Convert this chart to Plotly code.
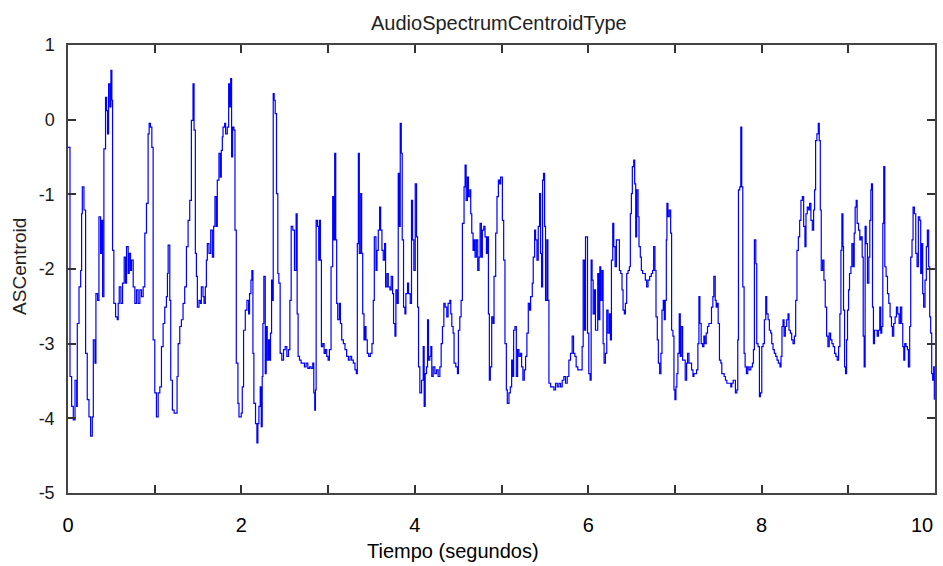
import plotly.graph_objects as go

# (time in s, ASCentroid), split by time range
seg_0_2 = [
    (0.000,-0.37),(0.023,-3.44),(0.042,-3.84),(0.061,-4.02),(0.081,-3.49),(0.100,-3.84),(0.107,-2.73),
    (0.127,-2.24),(0.146,-2.02),(0.157,-1.26),(0.165,-0.90),(0.184,-1.21),(0.203,-3.13),(0.222,-3.75),
    (0.242,-3.98),(0.261,-4.24),(0.280,-3.98),(0.292,-2.95),(0.311,-3.26),(0.322,-2.33),(0.341,-2.42),
    (0.357,-1.30),(0.376,-1.79),(0.387,-1.35),(0.399,-2.37),(0.414,-0.39),(0.433,0.30),(0.445,0.12),
    (0.456,-0.19),(0.468,0.48),(0.483,0.17),(0.495,0.66),(0.506,0.26),(0.514,-1.75),(0.529,-2.46),
    (0.549,-2.64),(0.568,-2.68),(0.579,-2.46),(0.591,-2.24),(0.610,-2.46),(0.629,-2.19),(0.648,-1.84),
    (0.664,-2.19),(0.675,-1.70),(0.694,-2.06),(0.706,-1.79),(0.721,-2.02),(0.733,-1.88),(0.752,-2.24),
    (0.771,-2.46),(0.790,-2.28),(0.809,-2.46),(0.829,-2.28),(0.848,-2.37),(0.867,-2.24),(0.886,-1.52),
    (0.905,-1.12),(0.924,-0.19),(0.936,-0.05),(0.951,-0.10),(0.967,-0.37),(0.982,-2.95),(1.001,-3.66),
    (1.020,-3.98),(1.040,-3.66),(1.059,-3.58),(1.078,-3.04),(1.097,-2.73),(1.116,-2.51),(1.135,-2.37),
    (1.147,-2.06),(1.155,-1.68),(1.174,-2.42),(1.185,-3.49),(1.204,-3.89),(1.224,-3.93),(1.243,-3.93),
    (1.258,-3.44),(1.270,-3.00),(1.289,-2.77),(1.308,-2.68),(1.327,-2.46),(1.346,-2.24),(1.366,-1.70),
    (1.385,-1.35),(1.404,-1.08),(1.423,-0.01),(1.442,0.48),(1.454,-0.14),(1.469,-1.79),(1.481,-2.10),
    (1.492,-2.51),(1.511,-2.42),(1.527,-2.46),(1.538,-2.24),(1.557,-2.37),(1.569,-2.46),(1.584,-2.24),
    (1.596,-1.88),(1.607,-1.66),(1.626,-1.79),(1.646,-1.48),(1.665,-1.84),(1.680,-1.43),(1.695,-1.03),
    (1.711,-1.43),(1.722,-0.81),(1.741,-0.45),(1.757,-0.77),(1.768,-0.41),(1.780,-0.23),(1.788,-0.10),
    (1.807,-0.05),(1.818,-0.19),(1.837,-0.10),(1.853,0.48),(1.864,0.17),(1.876,0.55),(1.887,-0.50),
    (1.899,-0.10),(1.914,-0.14),(1.926,-1.48),(1.941,-3.26),(1.960,-3.80),(1.972,-3.98),
]

seg_2_4 = [
    (1.998,-3.93),(2.010,-3.58),(2.025,-2.82),(2.045,-2.55),(2.064,-2.42),(2.083,-2.60),(2.094,-2.33),
    (2.110,-2.15),(2.121,-2.02),(2.133,-3.13),(2.144,-3.80),(2.163,-4.07),(2.179,-4.33),(2.190,-4.07),
    (2.202,-3.84),(2.217,-3.58),(2.229,-4.11),(2.240,-3.44),(2.248,-2.73),(2.259,-2.10),(2.275,-3.40),
    (2.286,-2.77),(2.298,-3.22),(2.313,-2.95),(2.324,-3.22),(2.336,-2.86),(2.348,-2.15),(2.355,-2.42),
    (2.367,0.35),(2.378,0.26),(2.390,0.08),(2.405,-0.99),(2.420,-2.06),(2.432,-2.19),(2.447,-3.13),
    (2.466,-3.22),(2.486,-3.08),(2.505,-3.04),(2.524,-3.17),(2.543,-3.08),(2.559,-2.42),(2.574,-1.43),
    (2.593,-1.48),(2.612,-2.02),(2.631,-1.26),(2.643,-2.60),(2.654,-3.17),(2.670,-3.22),(2.689,-3.26),
    (2.708,-3.26),(2.727,-3.31),(2.746,-3.26),(2.766,-3.33),(2.785,-3.31),(2.804,-3.33),(2.823,-3.26),
    (2.835,-3.66),(2.846,-3.89),(2.854,-3.62),(2.862,-1.35),(2.877,-1.43),(2.892,-1.88),(2.900,-1.35),
    (2.911,-1.88),(2.923,-3.04),(2.938,-3.00),(2.954,-3.13),(2.969,-3.08),(2.984,-3.17),(3.000,-3.22),
    (3.015,-3.08),(3.034,-1.97),(3.053,-1.03),(3.065,-1.61),(3.076,-0.45),(3.088,-1.61),(3.099,-2.46),
    (3.111,-2.68),(3.130,-2.46),(3.142,-2.73),(3.157,-2.95),(3.176,-3.00),(3.195,-3.08),(3.214,-3.17),
    (3.234,-3.22),(3.253,-3.17),(3.272,-3.22),(3.291,-3.26),(3.310,-3.35),(3.326,-3.40),(3.337,-1.66),
    (3.349,-0.45),(3.360,-1.79),(3.376,-0.99),(3.387,-1.79),(3.399,-2.60),(3.414,-2.95),(3.425,-2.77),
    (3.437,-2.95),(3.452,-3.13),(3.468,-3.17),(3.487,-3.13),(3.506,-3.00),(3.521,-2.42),(3.533,-1.57),
    (3.552,-2.02),(3.564,-1.75),(3.579,-1.48),(3.594,-1.17),(3.606,-1.48),(3.621,-1.75),(3.636,-1.88),
    (3.652,-1.66),(3.663,-2.24),(3.679,-2.06),(3.694,-2.24),(3.713,-2.28),(3.728,-2.10),(3.744,-2.33),
    (3.755,-2.73),(3.771,-2.90),(3.782,-2.28),(3.797,-2.46),(3.809,-0.72),(3.820,-1.43),(3.832,-0.05),
    (3.844,-0.45),(3.855,-1.61),(3.870,-2.51),(3.886,-2.60),(3.897,-2.33),(3.916,-2.19),(3.928,-2.33),
    (3.947,-2.46),(3.962,-1.08),(3.974,-1.61),(3.989,-2.02),
]

seg_4_6 = [
    (4.005,-0.86),(4.020,-1.57),(4.032,-2.51),(4.043,-3.31),(4.058,-3.66),(4.078,-3.49),(4.097,-3.04),
    (4.108,-3.84),(4.120,-3.40),(4.135,-3.31),(4.147,-2.68),(4.158,-3.22),(4.173,-3.17),(4.185,-3.04),
    (4.196,-3.44),(4.212,-3.31),(4.231,-3.40),(4.250,-3.35),(4.269,-3.44),(4.289,-3.31),(4.304,-3.00),
    (4.319,-2.77),(4.335,-2.46),(4.350,-2.51),(4.369,-2.64),(4.384,-2.46),(4.404,-2.42),(4.415,-2.60),
    (4.427,-2.77),(4.442,-2.86),(4.453,-3.26),(4.473,-3.31),(4.492,-3.40),(4.503,-2.82),(4.519,-2.64),
    (4.534,-2.42),(4.549,-1.39),(4.568,-0.90),(4.580,-0.61),(4.592,-1.08),(4.607,-0.77),(4.618,-1.03),
    (4.634,-0.94),(4.645,-1.26),(4.657,-1.52),(4.672,-1.75),(4.684,-1.61),(4.695,-1.84),(4.710,-1.61),
    (4.726,-2.02),(4.741,-1.84),(4.753,-1.39),(4.768,-1.84),(4.779,-1.48),(4.795,-1.43),(4.810,-1.57),
    (4.826,-1.79),(4.837,-1.57),(4.849,-2.60),(4.860,-3.49),(4.871,-3.31),(4.887,-2.64),(4.902,-2.73),
    (4.914,-2.10),(4.933,-1.52),(4.948,-1.03),(4.964,-0.81),(4.979,-0.86),(4.990,-0.77),(5.010,-1.35),
    (5.025,-1.88),(5.040,-3.00),(5.056,-3.62),(5.067,-3.80),(5.086,-3.66),(5.102,-3.58),(5.117,-3.22),
    (5.129,-3.44),(5.140,-2.82),(5.155,-2.77),(5.171,-3.44),(5.186,-3.08),(5.201,-3.17),(5.217,-3.13),
    (5.232,-3.31),(5.247,-3.49),(5.263,-3.35),(5.278,-3.17),(5.293,-2.86),(5.309,-2.46),(5.324,-2.55),
    (5.336,-2.37),(5.355,-2.19),(5.366,-1.84),(5.382,-1.48),(5.393,-1.61),(5.409,-1.88),(5.424,-1.43),
    (5.439,-0.99),(5.451,-1.79),(5.462,-2.24),(5.474,-0.81),(5.485,-0.72),(5.497,-1.43),(5.508,-2.42),
    (5.524,-1.61),(5.535,-2.42),(5.547,-3.53),(5.566,-3.58),(5.585,-3.58),(5.604,-3.62),(5.623,-3.53),
    (5.643,-3.58),(5.662,-3.53),(5.681,-3.58),(5.700,-3.49),(5.719,-3.44),(5.738,-3.53),(5.758,-3.44),
    (5.777,-3.22),(5.796,-3.13),(5.815,-2.90),(5.831,-3.13),(5.846,-3.17),(5.861,-3.31),(5.880,-3.35),
    (5.911,-3.35),(5.930,-3.04),(5.942,-1.88),(5.957,-2.82),(5.969,-1.57),(5.980,-1.57),(5.992,-2.86),
]

seg_6_8 = [
    (6.007,-3.40),(6.022,-3.49),(6.034,-1.88),(6.045,-2.15),(6.057,-2.60),(6.072,-2.28),(6.084,-2.82),
    (6.099,-2.82),(6.110,-2.06),(6.122,-2.68),(6.134,-1.97),(6.145,-2.42),(6.160,-2.02),(6.172,-3.00),
    (6.183,-3.26),(6.199,-3.13),(6.214,-2.55),(6.229,-2.86),(6.245,-2.60),(6.256,-2.95),(6.268,-1.88),
    (6.283,-1.39),(6.295,-1.70),(6.310,-1.97),(6.325,-1.61),(6.345,-1.61),(6.360,-2.02),(6.375,-2.06),
    (6.390,-2.28),(6.402,-2.55),(6.417,-2.60),(6.429,-2.46),(6.444,-2.06),(6.460,-2.02),(6.475,-1.97),
    (6.486,-1.26),(6.498,-0.99),(6.509,-0.63),(6.525,-0.54),(6.536,-0.86),(6.548,-1.57),(6.559,-0.94),
    (6.575,-1.30),(6.586,-1.70),(6.601,-1.84),(6.613,-2.02),(6.628,-2.06),(6.644,-2.06),(6.659,-2.15),
    (6.674,-2.24),(6.690,-2.15),(6.709,-2.10),(6.728,-2.06),(6.743,-2.02),(6.755,-1.70),(6.770,-2.02),
    (6.782,-2.64),(6.797,-2.95),(6.809,-3.26),(6.824,-3.40),(6.839,-3.13),(6.851,-2.55),(6.866,-2.42),
    (6.878,-2.68),(6.889,-2.42),(6.901,-1.61),(6.908,-1.12),(6.920,-1.30),(6.935,-1.21),(6.951,-1.52),
    (6.962,-2.82),(6.977,-2.90),(6.989,-3.62),(7.000,-3.75),(7.012,-3.58),(7.023,-3.40),(7.035,-3.13),
    (7.050,-2.60),(7.062,-3.17),(7.073,-2.77),(7.089,-3.22),(7.104,-3.22),(7.119,-3.49),(7.135,-3.26),
    (7.146,-3.13),(7.162,-3.26),(7.177,-3.26),(7.192,-3.35),(7.208,-3.44),(7.219,-3.40),(7.234,-3.40),
    (7.250,-3.35),(7.265,-3.00),(7.277,-2.37),(7.288,-2.73),(7.303,-3.00),(7.319,-3.04),(7.334,-2.90),
    (7.346,-3.00),(7.361,-2.86),(7.376,-2.77),(7.392,-2.73),(7.407,-2.73),(7.422,-2.51),(7.438,-2.37),
    (7.449,-2.10),(7.465,-2.42),(7.476,-2.51),(7.488,-2.46),(7.499,-2.73),(7.514,-3.22),(7.530,-3.26),
    (7.541,-3.40),(7.557,-3.40),(7.568,-3.44),(7.583,-3.49),(7.599,-3.53),(7.614,-3.53),(7.629,-3.53),
    (7.645,-3.58),(7.656,-3.53),(7.672,-3.49),(7.687,-3.49),(7.698,-3.66),(7.714,-3.62),(7.725,-2.95),
    (7.733,-0.94),(7.748,-0.90),(7.760,-0.10),(7.771,-0.90),(7.783,-2.24),(7.798,-3.13),(7.810,-3.31),
    (7.825,-3.40),(7.840,-3.31),(7.856,-3.35),(7.875,-3.31),(7.894,-3.26),(7.906,-3.08),(7.917,-1.61),
    (7.933,-1.93),(7.944,-3.00),(7.959,-3.04),(7.975,-3.71),(7.986,-3.66),
]

seg_8_10 = [
    (8.002,-3.04),(8.017,-3.00),(8.032,-2.68),(8.048,-2.37),(8.059,-2.60),(8.075,-2.68),(8.090,-2.82),
    (8.105,-2.86),(8.117,-3.00),(8.132,-3.08),(8.147,-3.13),(8.163,-3.17),(8.178,-3.22),(8.193,-3.26),
    (8.212,-3.31),(8.224,-3.17),(8.235,-2.77),(8.247,-2.68),(8.259,-2.90),(8.274,-2.77),(8.289,-2.68),
    (8.305,-2.60),(8.316,-2.82),(8.332,-2.86),(8.347,-2.95),(8.362,-3.00),(8.378,-2.90),(8.393,-2.42),
    (8.408,-1.75),(8.424,-1.57),(8.439,-1.35),(8.454,-1.08),(8.470,-1.03),(8.485,-1.43),(8.500,-1.70),
    (8.512,-1.26),(8.527,-1.17),(8.543,-1.21),(8.554,-1.12),(8.569,-1.35),(8.585,-1.48),(8.600,-1.21),
    (8.611,-0.94),(8.623,-0.28),(8.638,-0.19),(8.654,-0.05),(8.665,-0.28),(8.677,-1.21),(8.688,-2.02),
    (8.704,-1.88),(8.719,-2.15),(8.734,-2.51),(8.750,-2.90),(8.765,-3.04),(8.780,-2.86),(8.796,-2.95),
    (8.811,-3.00),(8.826,-3.04),(8.842,-3.13),(8.857,-3.17),(8.872,-3.22),(8.888,-3.04),(8.903,-2.60),
    (8.915,-1.75),(8.926,-1.26),(8.938,-1.70),(8.945,-2.55),(8.957,-3.31),(8.968,-3.40),(8.980,-2.95),
    (8.991,-2.55),(9.003,-2.28),(9.014,-2.06),(9.030,-1.97),(9.041,-1.66),(9.056,-1.97),(9.068,-1.52),
    (9.079,-1.17),(9.091,-1.08),(9.102,-1.39),(9.118,-1.48),(9.133,-1.61),(9.145,-1.57),(9.160,-1.84),
    (9.172,-2.90),(9.183,-3.31),(9.194,-1.43),(9.206,-1.66),(9.221,-2.19),(9.237,-1.84),(9.248,-1.35),
    (9.260,-0.94),(9.267,-0.86),(9.279,-2.51),(9.290,-3.00),(9.302,-2.82),(9.317,-2.82),(9.333,-2.90),
    (9.348,-2.82),(9.363,-2.51),(9.375,-2.86),(9.386,-2.77),(9.398,-1.39),(9.409,-0.63),(9.421,-1.97),
    (9.436,-2.10),(9.452,-2.33),(9.467,-2.46),(9.482,-2.64),(9.498,-2.77),(9.509,-2.90),(9.524,-2.73),
    (9.540,-2.64),(9.555,-2.51),(9.570,-2.60),(9.586,-2.73),(9.601,-2.51),(9.616,-2.73),(9.628,-3.04),
    (9.640,-3.22),(9.651,-3.00),(9.666,-3.04),(9.682,-3.08),(9.693,-3.31),(9.708,-2.77),(9.720,-1.84),
    (9.735,-1.61),(9.747,-1.17),(9.762,-1.26),(9.778,-1.79),(9.793,-1.97),(9.808,-1.30),(9.824,-1.35),
    (9.835,-2.06),(9.847,-1.66),(9.858,-2.33),(9.869,-2.51),(9.885,-2.15),(9.900,-1.70),(9.912,-1.48),
    (9.927,-1.97),(9.939,-2.64),(9.950,-2.86),(9.962,-3.40),(9.973,-3.49),(9.985,-3.31),(9.992,-3.75),
]

x_tick_vals = list(range(0, 11))
x_tick_text = ["0", "", "2", "", "4", "", "6", "", "8", "", ""]
x_last_label = "10"   # drawn right-aligned at the axis end, as in the reference
y_tick_vals = [-5, -4, -3, -2, -1, 0, 1]
y_tick_text = ["-5", "-4", "-3", "-2", "-1", "0", "1"]

title_text = "AudioSpectrumCentroidType"
x_label = "Tiempo (segundos)"
y_label = "ASCentroid"

points = seg_0_2 + seg_2_4 + seg_4_6 + seg_6_8 + seg_8_10
t = [p[0] for p in points]
v = [p[1] for p in points]

FONT = "Arial, Liberation Sans, Helvetica, sans-serif"
XTICK_SIZE = 20

fig = go.Figure()
fig.add_trace(go.Scatter(
    x=t, y=v, mode="lines", line=dict(color="#0000ff", width=1.2, shape="hv"),
    hoverinfo="skip", showlegend=False,
))

axis_common = dict(
    showline=True, linecolor="#444444", linewidth=1.5, mirror="ticks",
    ticks="inside", ticklen=8, tickwidth=1.5, tickcolor="#333333",
    showgrid=False, zeroline=False,
)

fig.update_layout(
    width=943, height=566,
    margin=dict(l=68, r=6, t=45, b=73),
    paper_bgcolor="white", plot_bgcolor="white",
    xaxis=dict(range=[0, 10], tickmode="array", tickvals=x_tick_vals, ticktext=x_tick_text,
               tickfont=dict(family=FONT, size=XTICK_SIZE, color="#000000"), ticklabelstandoff=13,
               **axis_common),
    yaxis=dict(range=[-5, 1], tickmode="array", tickvals=y_tick_vals, ticktext=y_tick_text,
               tickfont=dict(family=FONT, size=18, color="#1a1a1a"), ticklabelstandoff=8,
               **axis_common),
    annotations=[
        dict(text=title_text, xref="paper", yref="paper", x=0.497, y=1.049,
             xanchor="center", yanchor="middle", showarrow=False,
             font=dict(family=FONT, size=20, color="#222222")),
        dict(text=x_label, xref="paper", yref="paper", x=0.444, y=-0.129,
             xanchor="center", yanchor="middle", showarrow=False,
             font=dict(family=FONT, size=20, color="#000000")),
        dict(text=y_label, xref="paper", yref="paper", x=-0.0552, y=0.505,
             xanchor="center", yanchor="middle", showarrow=False, textangle=-90,
             font=dict(family=FONT, size=19, color="#222222")),
        dict(text=x_last_label, xref="x", yref="paper", x=x_tick_vals[-1], y=-0.072,
             xanchor="right", yanchor="middle", showarrow=False,
             font=dict(family=FONT, size=XTICK_SIZE, color="#000000")),
    ],
)

fig.write_html("out.html")
